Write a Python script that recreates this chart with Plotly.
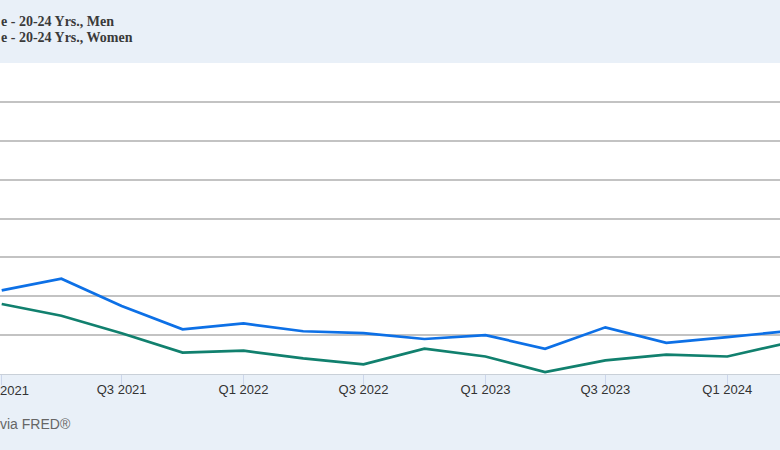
import plotly.graph_objects as go

# Quarterly observations (first day of quarter)
quarters = ["2021-01-01", "2021-04-01", "2021-07-01", "2021-10-01",
            "2022-01-01", "2022-04-01", "2022-07-01", "2022-10-01",
            "2023-01-01", "2023-04-01", "2023-07-01", "2023-10-01",
            "2024-01-01", "2024-04-01"]

men = [10.3, 10.9, 9.5, 8.3, 8.6, 8.2, 8.1, 7.8, 8.0, 7.3, 8.4, 7.6, 7.9, 8.2]
women = [9.6, 9.0, 8.1, 7.1, 7.2, 6.8, 6.5, 7.3, 6.9, 6.1, 6.7, 7.0, 6.9, 7.6]

tick_dates = ["2021-01-01", "2021-07-01", "2022-01-01", "2022-07-01",
              "2023-01-01", "2023-07-01", "2024-01-01"]
tick_labels = ["", "Q3 2021", "Q1 2022", "Q3 2022",
               "Q1 2023", "Q3 2023", "Q1 2024"]
first_tick_visible = "2021"

# Visible (cropped) text of the reference
legend_texts = ["e - 20-24 Yrs., Men", "e - 20-24 Yrs., Women"]
source_text = "via FRED®"

BLUE = "#0d70e6"
GREEN = "#11806e"
BG = "#e9f0f8"

fig = go.Figure()
fig.add_trace(go.Scatter(x=quarters, y=men, mode="lines", name=legend_texts[0],
                         line=dict(color=BLUE, width=2.7)))
fig.add_trace(go.Scatter(x=quarters, y=women, mode="lines", name=legend_texts[1],
                         line=dict(color=GREEN, width=2.7)))

W, H = 780, 450
top, bottom = 63, 374
ph = bottom - top

def py(ypix):
    return (bottom - ypix) / ph

sans = "Liberation Sans, Arial, sans-serif"

fig.update_layout(
    width=W, height=H,
    paper_bgcolor=BG, plot_bgcolor="white",
    margin=dict(l=0, r=0, t=top, b=H - bottom, pad=0),
    showlegend=False,
    xaxis=dict(
        type="date",
        range=["2020-12-29 10:00", "2024-03-20 14:00"],
        tickmode="array", tickvals=tick_dates, ticktext=tick_labels,
        showgrid=False, zeroline=False,
        showline=True, linecolor="#c9d0d8", linewidth=1,
        ticks="outside", ticklen=10, tickcolor="#ccd6eb", tickwidth=1,
        ticklabelstandoff=-7,
        tickfont=dict(family=sans, size=13, color="#333333"),
        automargin=False,
    ),
    yaxis=dict(
        range=[6, 22], dtick=2, tick0=6,
        showgrid=True, gridcolor="#c3c3c3", gridwidth=1.5,
        zeroline=False, showticklabels=False, showline=False,
        automargin=False,
    ),
)

legend_font = dict(family="Liberation Serif, Times New Roman, serif", size=14, color="#3a3a3a")
fig.add_annotation(text="<b>" + legend_texts[0] + "</b>", xref="paper", yref="paper",
                   x=-1.5 / W, y=py(22), xanchor="left", yanchor="middle",
                   showarrow=False, font=legend_font)
fig.add_annotation(text="<b>" + legend_texts[1] + "</b>", xref="paper", yref="paper",
                   x=-1.5 / W, y=py(38), xanchor="left", yanchor="middle",
                   showarrow=False, font=legend_font)
fig.add_annotation(text=first_tick_visible, xref="paper", yref="paper",
                   x=-2 / W, y=py(390), xanchor="left", yanchor="middle",
                   showarrow=False, font=dict(family=sans, size=13, color="#333333"))
fig.add_annotation(text=source_text, xref="paper", yref="paper",
                   x=-2 / W, y=py(424), xanchor="left", yanchor="middle",
                   showarrow=False, font=dict(family=sans, size=14, color="#666666"))

fig.write_html(
    "out.html",
    config={"displayModeBar": False},
    post_script="document.body.style.margin='0';document.body.style.overflow='hidden';",
)
